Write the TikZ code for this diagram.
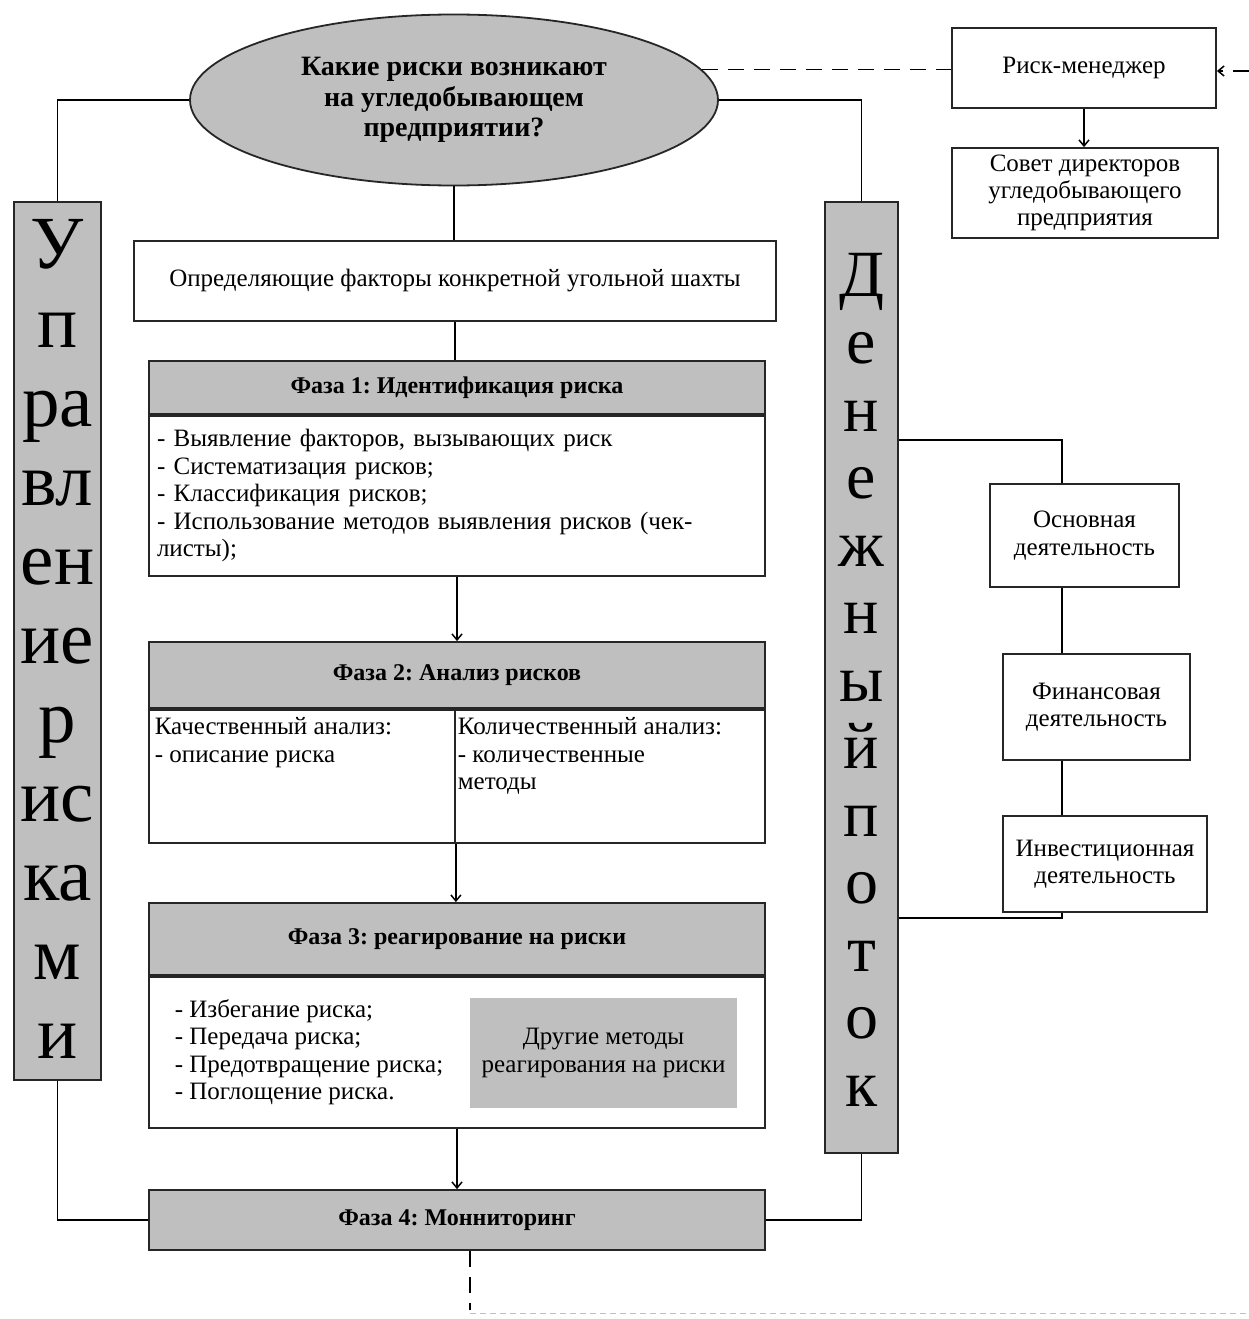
\documentclass[tikz,border=0pt]{standalone}
\usepackage{fontspec}
\setmainfont{Liberation Serif}
\usetikzlibrary{arrows.meta, positioning, shapes.geometric}
\colorlet{boxgray}{black!25}
\colorlet{edgegray}{black!85}
\frenchspacing

\begin{document}
\begin{tikzpicture}[x=1pt, y=-1pt, >={Straight Barb[length=6pt, width=10pt]}, line width=1.5pt,
    plainbox/.style={draw=edgegray, line width=1.8pt, fill=white, inner sep=0pt, align=center,
      font=\fontsize{25}{27.5}\selectfont},
    graybox/.style={plainbox, fill=boxgray},
    headbox/.style={graybox, minimum width=616pt, font=\fontsize{24}{27.5}\selectfont\bfseries},
    bodytext/.style={inner sep=0pt, align=left, anchor=north west, font=\fontsize{25}{27.5}\selectfont},
    dashline/.style={dashed, dash pattern=on 16pt off 10pt}]
  \useasboundingbox (0,0) rectangle (1249,1319);

  \node[graybox, ellipse, minimum width=528pt, minimum height=171pt, font=\fontsize{28}{30.5}\selectfont\bfseries] (q) at (454,100)
    {Какие риски возникают\\на угледобывающем\\предприятии?};

  \node[plainbox, minimum width=264pt, minimum height=80pt] (rm) at (1084,68) {Риск-менеджер};
  \node[plainbox, minimum width=266pt, minimum height=90pt, font=\fontsize{25}{27}\selectfont] (sd) at (1085,193)
    {Совет директоров\\угледобывающего\\предприятия};

  \node[plainbox, minimum width=642pt, minimum height=80pt] (f) at (455,281)
    {Определяющие факторы конкретной угольной шахты};

  \node[headbox, minimum height=53pt] (p1h) at (457,387.5) {Фаза 1: Идентификация риска};
  \node[plainbox, minimum width=616pt, minimum height=160pt, below=0pt of p1h, text width=600pt, align=left, inner sep=8pt] (p1b)
    {- Выявление факторов, вызывающих риск\\- Систематизация рисков;\\- Классификация рисков;\\- Использование методов выявления рисков (чек-\\листы);};

  \node[headbox, minimum height=66pt] (p2h) at (457,675) {Фаза 2: Анализ рисков};
  \node[plainbox, minimum width=306pt, minimum height=133pt, anchor=north west] (p2l) at (p2h.south west) {};
  \node[plainbox, minimum width=310pt, minimum height=133pt, anchor=north east] (p2r) at (p2h.south east) {};
  \node[bodytext] at ([shift={(6,8)}]p2l.north west) {Качественный анализ:\\- описание риска};
  \node[bodytext] at ([shift={(3,8)}]p2r.north west) {Количественный анализ:\\- количественные\\методы};

  \node[headbox, minimum height=72pt] (p3h) at (457,939) {Фаза 3: реагирование на риски};
  \node[plainbox, minimum width=616pt, minimum height=151pt, below=0pt of p3h] (p3b) {};
  \node[bodytext, anchor=west] at ([xshift=26]p3b.west)
    {- Избегание риска;\\- Передача риска;\\- Предотвращение риска;\\- Поглощение риска.};
  \node[fill=boxgray, minimum width=267pt, minimum height=110pt, inner sep=0pt, align=center,
    font=\fontsize{25}{27.5}\selectfont] (p3o) at (603.5,1053) {Другие методы\\реагирования на риски};

  \node[headbox, minimum height=60pt] (p4) at (457,1220) {Фаза 4: Монниторинг};

  \node[graybox, minimum width=87pt, minimum height=878pt] (upr) at (57.5,641) {};
  \node[inner sep=0pt, align=center, anchor=north, font=\fontsize{75}{79}\selectfont] at ([yshift=-18]upr.north)
    {У\\п\\ра\\вл\\ен\\ие\\р\\ис\\ка\\м\\и};

  \node[graybox, minimum width=73pt, minimum height=951pt] (den) at (861.5,677.5) {};
  \node[inner sep=0pt, align=center, anchor=north, font=\fontsize{66}{67.5}\selectfont] at ([yshift=-51]den.north)
    {Д\\е\\н\\е\\ж\\н\\ы\\й\\п\\о\\т\\о\\к};

  \node[plainbox, minimum width=189pt, minimum height=103pt] (osn) at (1084.5,535.5) {Основная\\деятельность};
  \node[plainbox, minimum width=187pt, minimum height=106pt] (fin) at (1096.5,707) {Финансовая\\деятельность};
  \node[plainbox, minimum width=204pt, minimum height=96pt] (inv) at (1105,864) {Инвестиционная\\деятельность};

  \coordinate (cf) at (1062,440);
  \coordinate (cb) at (1062,918);
  \coordinate (rmin) at (1249,71);
  \coordinate (endv) at (470,1310);
  \coordinate (endh) at (1249,1313);

  \draw (q.south) -- (q.south |- f.north);
  \draw (f.south) -- (f.south |- p1h.north);
  \draw[->] (p1b.south) -- (p2h.north);
  \draw[->] (p2l.south east) -- (p2l.south east |- p3h.north);
  \draw[->] (p3b.south) -- (p4.north);

  \draw (q.west) -| (upr.north);
  \draw (q.east) -| (den.north);
  \draw (upr.south) |- (p4.west);
  \draw (den.south) |- (p4.east);

  \draw[dashline] (q.7) -- (q.7 -| rm.west);
  \draw[dashline, ->] (rmin) -- (rmin -| rm.east);
  \draw[->] (rm.south) -- (rm.south |- sd.north);

  \draw (den.east |- cf) -- (cf) -- (cf |- osn.north);
  \draw (cf |- osn.south) -- (cf |- fin.north);
  \draw (cf |- fin.south) -- (cf |- inv.north);
  \draw (cf |- inv.south) -- (cb) -- (cb -| den.east);

  \draw[dashline] (p4.south -| endv) -- (endv);
  \draw[black!25, line width=1pt, dash pattern=on 6pt off 4pt] (endv |- endh) -- (endh);
\end{tikzpicture}
\end{document}
